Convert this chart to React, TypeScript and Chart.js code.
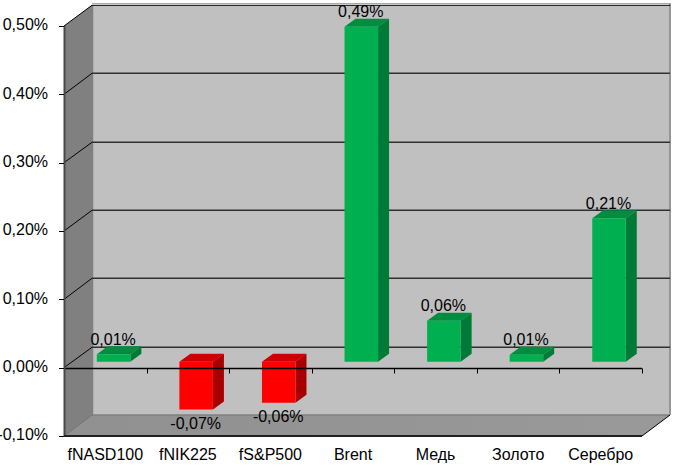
import React, { useEffect, useRef } from "react";
import { Chart, registerables } from "chart.js";

Chart.register(...registerables);

const categories = ["fNASD100", "fNIK225", "fS&P500", "Brent", "Медь", "Золото", "Серебро"];
const changes = [0.011, -0.07, -0.06, 0.49, 0.06, 0.01, 0.21];
const axisTicks = [-0.1, 0, 0.1, 0.2, 0.3, 0.4, 0.5];

const W = 676;
const H = 469;
const FONT = '16px "Liberation Sans", Arial, sans-serif';
const DEPTH_X = 28;
const DEPTH_Y = 21;
const BAR_SHIFT_X = 8.3;
const BAR_SHIFT_Y = 6;
const BAR_DEPTH_X = 11;
const BAR_DEPTH_Y = 8;

const pct = (v: number) => v.toFixed(2).replace(".", ",").replace("-0,00", "0,00") + "%";

const poly = (ctx: CanvasRenderingContext2D, pts: number[][], fill: any) => {
  ctx.beginPath();
  pts.forEach(([x, y], i) => (i ? ctx.lineTo(x, y) : ctx.moveTo(x, y)));
  ctx.closePath();
  ctx.fillStyle = fill;
  ctx.fill();
};

const line = (ctx: CanvasRenderingContext2D, pts: number[][], color: string, width = 1) => {
  ctx.beginPath();
  pts.forEach(([x, y], i) => (i ? ctx.lineTo(x, y) : ctx.moveTo(x, y)));
  ctx.strokeStyle = color;
  ctx.lineWidth = width;
  ctx.stroke();
};

const box3d = {
  id: "box3d",
  beforeDraw(chart: any) {
    const ctx = chart.ctx;
    ctx.save();
    ctx.fillStyle = "#ffffff";
    ctx.fillRect(0, 0, W, H);
    ctx.restore();
  },
  beforeDatasetsDraw(chart: any) {
    const { ctx, chartArea: a, scales } = chart;
    const y = scales.y;
    const L = a.left, R = a.right, T = a.top, B = a.bottom;
    const dx = DEPTH_X, dy = DEPTH_Y;
    ctx.save();
    // walls
    poly(ctx, [[L + dx, T - dy], [R + dx, T - dy], [R + dx, B - dy], [L + dx, B - dy]], "#c0c0c0");
    poly(ctx, [[L, T], [L + dx, T - dy], [L + dx, B - dy], [L, B]], "#808080");
    const floor = ctx.createLinearGradient(L, 0, R, 0);
    floor.addColorStop(0, "#909090");
    floor.addColorStop(1, "#999999");
    poly(ctx, [[L, B], [R, B], [R + dx, B - dy], [L + dx, B - dy]], floor);
    line(ctx, [[L + dx + 0.5, T - dy], [L + dx + 0.5, B - dy], [R + dx, B - dy]], "#808080", 1.5);
    line(ctx, [[R + dx, T - dy - 1], [R + dx, B - dy]], "#969696", 2);
    line(ctx, [[L + dx, T - dy - 1.5], [R + dx + 1, T - dy - 1.5]], "#a8a8a8", 1);
    // gridlines on the walls
    axisTicks.forEach((t) => {
      const py = y.getPixelForValue(t);
      const back = Math.round(py - dy) + 0.3;
      if (t > -0.1) {
        line(ctx, [[L, py], [L + dx, back]], "#000000", 1);
        line(ctx, [[L + dx, back], [R + dx, back]], t === 0.5 ? "#000000" : "#303030", t === 0.5 ? 1 : 1.6);
      }
    });
    line(ctx, [[L, B], [L + dx, B - dy]], "#6e6e6e", 1);
    // depth faces of the bars
    chart.getDatasetMeta(0).data.forEach((bar: any, i: number) => {
      const up = changes[i] >= 0;
      const x0 = bar.x - bar.width / 2 + BAR_SHIFT_X;
      const x1 = bar.x + bar.width / 2 + BAR_SHIFT_X;
      const t = Math.min(bar.y, bar.base) - BAR_SHIFT_Y;
      const b = Math.max(bar.y, bar.base) - BAR_SHIFT_Y;
      const ex = BAR_DEPTH_X, ey = BAR_DEPTH_Y;
      poly(ctx, [[x0, t], [x1, t], [x1 + ex, t - ey], [x0 + ex, t - ey]], up ? "#008d40" : "#cc0000");
      poly(ctx, [[x1, t], [x1 + ex, t - ey], [x1 + ex, b - ey], [x1, b]], up ? "#007a37" : "#a80000");
    });
    ctx.restore();
    ctx.save();
    ctx.translate(BAR_SHIFT_X, -BAR_SHIFT_Y);
  },
  afterDatasetsDraw(chart: any) {
    const { ctx, chartArea: a, scales } = chart;
    ctx.restore();
    const y = scales.y;
    const x = scales.x;
    const L = a.left, R = a.right, B = a.bottom;
    ctx.save();
    const zero = Math.round(y.getPixelForValue(0)) + 0.5;
    line(ctx, [[L, zero], [R, zero]], "#000000", 1.5);
    line(ctx, [[L + 0.5, a.top], [L + 0.5, B]], "#484848", 2);
    line(ctx, [[L, B], [R, B]], "#202020", 2);
    line(ctx, [[R, B], [R + DEPTH_X, B - DEPTH_Y]], "#000000", 1);
    axisTicks.forEach((t) => {
      const py = Math.round(y.getPixelForValue(t)) + 0.5;
      line(ctx, [[L - 5, py], [L, py]], "#000000", 1);
    });
    categories.forEach((_, i) => {
      const px = Math.round(x.getPixelForValue(i) + (R - L) / categories.length / 2) + 0.5;
      line(ctx, [[px, zero], [px, zero + 5]], "#000000", 1);
    });
    // value labels
    ctx.font = FONT;
    ctx.fillStyle = "#000000";
    ctx.textAlign = "center";
    ctx.textBaseline = "middle";
    chart.getDatasetMeta(0).data.forEach((bar: any, i: number) => {
      const v = changes[i];
      const py = v >= 0 ? bar.y - BAR_SHIFT_Y - 14 : bar.y - BAR_SHIFT_Y + 15;
      ctx.fillText(pct(Math.round(v * 100) / 100), bar.x + BAR_SHIFT_X - 0.5, py);
    });
    ctx.restore();
  },
};

export default function App() {
  const ref = useRef<HTMLCanvasElement>(null);
  useEffect(() => {
    document.body.style.margin = "0";
    const canvas = ref.current!;
    canvas.getContext("2d", { alpha: false });
    const chart = new Chart(canvas, {
      type: "bar",
      data: {
        labels: categories,
        datasets: [
          {
            data: changes,
            backgroundColor: changes.map((v) => (v >= 0 ? "#00b050" : "#ff0000")),
            borderWidth: 0,
            barPercentage: 1,
            categoryPercentage: 0.406,
          },
        ],
      },
      options: {
        animation: false,
        responsive: false,
        devicePixelRatio: 1,
        layout: { padding: { top: 26, right: 34, left: 0, bottom: 0 } },
        plugins: { legend: { display: false }, tooltip: { enabled: false }, title: { display: false } },
        scales: {
          x: {
            afterFit: (s: any) => {
              s.height = 33;
            },
            grid: { display: false, drawTicks: false },
            border: { display: false },
            ticks: {
              color: "#000000",
              font: { family: '"Liberation Sans", Arial, sans-serif', size: 16 },
              padding: 10,
              maxRotation: 0,
              autoSkip: false,
            },
          },
          y: {
            min: -0.1,
            max: 0.5,
            afterFit: (s: any) => {
              s.width = 64;
            },
            afterBuildTicks: (s: any) => {
              s.ticks = axisTicks.map((value) => ({ value }));
            },
            grid: { display: false, drawTicks: false },
            border: { display: false },
            ticks: {
              color: "#000000",
              font: { family: '"Liberation Sans", Arial, sans-serif', size: 16 },
              padding: 16,
              callback: (v: any) => pct(Number(v)),
            },
          },
        },
      },
      plugins: [box3d],
    });
    return () => chart.destroy();
  }, []);
  return <canvas ref={ref} width={W} height={H} style={{ display: "block" }} />;
}
